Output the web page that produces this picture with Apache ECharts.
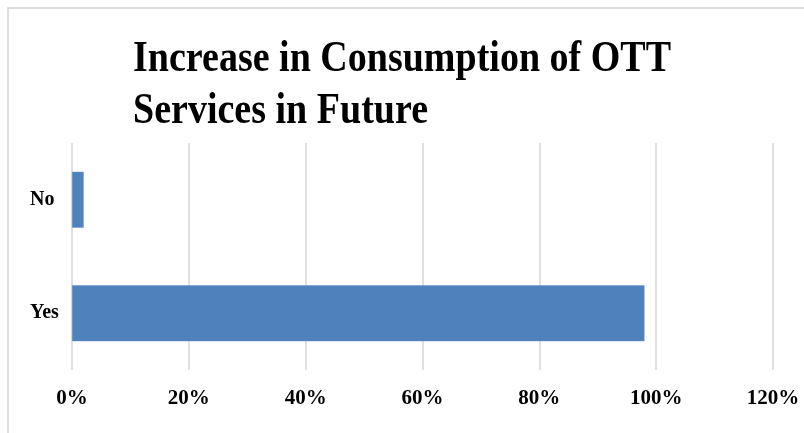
<!DOCTYPE html>
<html>
<head>
<meta charset="utf-8">
<script src="https://cdn.jsdelivr.net/npm/echarts@6/dist/echarts.min.js"></script>
<style>
  html, body { margin: 0; padding: 0; background: #ffffff; }
  #chart { width: 804px; height: 433px; }
</style>
</head>
<body>
<div id="chart"></div>
<script>
// Survey answers and their share of respondents (%)
const categories = ['Yes', 'No'];
const shares = [98, 2];
const tickLabels = ['0%', '20%', '40%', '60%', '80%', '100%', '120%'];
const titleLines = ['Increase in Consumption of OTT', 'Services in Future'];

const serif = '"Liberation Serif", "Times New Roman", serif';

const chart = echarts.init(document.getElementById('chart'), null, { renderer: 'canvas' });

chart.setOption({
  animation: false,
  backgroundColor: '#ffffff',
  grid: { left: 72, right: 31, top: 143, bottom: 63, containLabel: false },
  xAxis: {
    type: 'value',
    min: 0,
    max: 120,
    interval: 20,
    axisLine: { show: false },
    axisTick: { show: false },
    splitLine: { show: true, lineStyle: { color: '#d6d6d6', width: 1.5 } },
    axisLabel: {
      margin: 18,
      fontFamily: serif,
      fontWeight: 'bold',
      fontSize: 21,
      color: '#000000',
      formatter: function (v) { return tickLabels[Math.round(v / 20)]; }
    }
  },
  yAxis: {
    type: 'category',
    data: categories,
    axisLine: { show: false },
    axisTick: { show: false },
    splitLine: { show: false },
    axisLabel: {
      align: 'left',
      margin: 42,
      fontFamily: serif,
      fontWeight: 'bold',
      fontSize: 20,
      color: '#000000'
    }
  },
  series: [{
    type: 'bar',
    data: shares,
    barWidth: 56,
    itemStyle: { color: '#4f81bd', borderColor: '#6a95c9', borderWidth: 0.5 }
  }],
  graphic: [
    {
      // chart area frame
      type: 'rect',
      silent: true,
      shape: { x: 8, y: 8, width: 900, height: 500 },
      style: { fill: 'none', stroke: '#d2d2d2', lineWidth: 1.5 }
    },
    {
      type: 'text',
      left: 133,
      top: 37,
      scaleX: 0.845,
      originX: 0,
      style: {
        text: titleLines[0],
        font: 'bold 45px ' + serif,
        fill: '#000000'
      }
    },
    {
      type: 'text',
      left: 133,
      top: 89,
      scaleX: 0.845,
      originX: 0,
      style: {
        text: titleLines[1],
        font: 'bold 45px ' + serif,
        fill: '#000000'
      }
    }
  ]
});
</script>
</body>
</html>
